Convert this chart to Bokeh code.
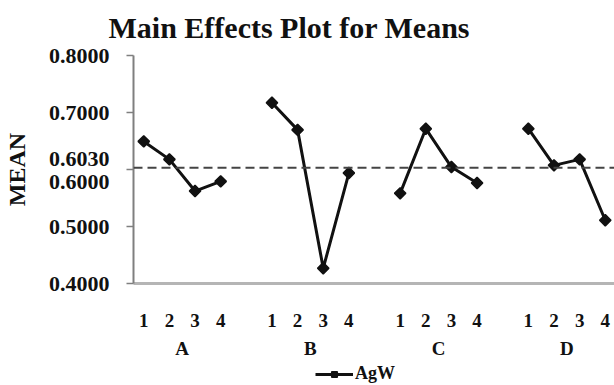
import numpy as np
from bokeh.plotting import figure
from bokeh.layouts import column
from bokeh.models import (Range1d, FixedTicker, LinearAxis, Span, Legend,
                          LegendItem, NumeralTickFormatter)
from bokeh.embed import file_html
from bokeh.resources import INLINE

# ---------------- data ----------------
title_text = "Main Effects Plot for Means"
y_label = "MEAN"
series_name = "AgW"
factors = ["A", "B", "C", "D"]
levels = ["1", "2", "3", "4"]
mean_A = [0.6493, 0.6178, 0.5622, 0.5792]
mean_B = [0.7171, 0.6695, 0.4268, 0.5938]
mean_C = [0.5582, 0.6716, 0.6043, 0.5763]
mean_D = [0.6716, 0.6073, 0.6178, 0.5109]
overall_mean = 0.603
y_ticks = [0.4, 0.5, 0.6, 0.7, 0.8]

series = [mean_A, mean_B, mean_C, mean_D]

# ---------------- layout helpers ----------------
FONT = "Liberation Serif"
INK = "#111111"
stride = len(levels) + 1
xs_groups = [[g * stride + i + 1 for i in range(len(levels))] for g in range(len(factors))]
tick_pos = [x for grp in xs_groups for x in grp]
tick_lab = {x: lv for grp in xs_groups for x, lv in zip(grp, levels)}
group_centers = [float(np.mean(grp)) for grp in xs_groups]

x_start, x_end = 0.6, 19.36

p = figure(width=614, height=364, output_backend="svg", toolbar_location=None,
           x_range=Range1d(x_start, x_end), y_range=Range1d(0.4, 0.8),
           min_border_left=133, min_border_right=0, min_border_top=55,
           min_border_bottom=81)
p.outline_line_color = None
p.grid.visible = False
p.background_fill_color = "white"
p.border_fill_color = "white"

# title
p.title.text = title_text
p.title.text_font = FONT
p.title.text_font_style = "bold"
p.title.text_font_size = "30px"
p.title.text_color = INK
p.title.align = "left"
p.title.vertical_align = "top"
p.title.offset = -25
p.title.standoff = 19

# y axis
ya = p.yaxis[0]
ya.ticker = FixedTicker(ticks=y_ticks)
ya.formatter = NumeralTickFormatter(format="0.0000")
ya.major_label_overrides = {0.6: f"{overall_mean:.4f}\n{0.6:.4f}"}
ya.axis_line_color = "#7f7f7f"
ya.axis_line_width = 2
ya.major_tick_line_color = "#7f7f7f"
ya.major_tick_line_width = 1.5
ya.major_tick_out = 7
ya.major_tick_in = 0
ya.minor_tick_line_color = None
ya.major_label_standoff = 17
ya.major_label_text_font = FONT
ya.major_label_text_font_style = "bold"
ya.major_label_text_font_size = "22px"
ya.major_label_text_line_height = 0.92
ya.major_label_text_color = INK
ya.axis_label = y_label
ya.axis_label_text_font = FONT
ya.axis_label_text_font_style = "bold"
ya.axis_label_text_font_size = "24px"
ya.axis_label_text_color = INK
ya.axis_label_standoff = 16

# x axis (levels)
xa = p.xaxis[0]
xa.ticker = FixedTicker(ticks=tick_pos)
xa.major_label_overrides = tick_lab
xa.axis_line_color = "#b5b5b5"
xa.axis_line_width = 3
xa.major_tick_line_color = None
xa.minor_tick_line_color = None
xa.major_tick_out = 0
xa.major_tick_in = 0
xa.major_label_standoff = 30
xa.major_label_text_font = FONT
xa.major_label_text_font_style = "bold"
xa.major_label_text_font_size = "19px"
xa.major_label_text_color = INK

# x axis (factor names)
xg = LinearAxis(ticker=FixedTicker(ticks=group_centers),
                major_label_overrides={c: f for c, f in zip(group_centers, factors)})
xg.axis_line_color = None
xg.major_tick_line_color = None
xg.minor_tick_line_color = None
xg.major_tick_out = 0
xg.major_tick_in = 0
xg.major_label_standoff = 8
xg.major_label_text_font = FONT
xg.major_label_text_font_style = "bold"
xg.major_label_text_font_size = "19px"
xg.major_label_text_color = INK
p.add_layout(xg, "below")

# reference line (overall mean)
p.add_layout(Span(location=overall_mean, dimension="width", line_color="#444444",
                  line_width=2, line_dash="9 5"))

# data
for xs, ys in zip(xs_groups, series):
    p.line(xs, ys, line_color=INK, line_width=3)
    p.scatter(xs, ys, marker="square", angle=np.pi / 4, size=8,
              fill_color=INK, line_color=INK, line_width=1.5)

# ---------------- legend strip ----------------
lg = figure(width=614, height=21, output_backend="svg", toolbar_location=None,
            x_range=Range1d(0, 1), y_range=Range1d(0, 1),
            min_border_left=0, min_border_right=0, min_border_top=0, min_border_bottom=0)
lg.axis.visible = False
lg.grid.visible = False
lg.outline_line_color = None
lg.border_fill_color = "white"
proxy_line = lg.line(x=[np.nan], y=[np.nan], line_color=INK, line_width=3)
proxy_pts = lg.scatter(x=[np.nan], y=[np.nan], marker="square", angle=np.pi / 4, size=8,
                       fill_color=INK, line_color=INK, line_width=1.5)
legend = Legend(items=[LegendItem(label=series_name, renderers=[proxy_line, proxy_pts])],
                location=(182, 1), orientation="horizontal",
                border_line_color=None, background_fill_alpha=0,
                label_text_font=FONT, label_text_font_style="bold",
                label_text_font_size="18px", label_text_color=INK,
                glyph_width=38, glyph_height=14, label_height=14, label_standoff=2,
                padding=0, margin=0, spacing=0)
lg.add_layout(legend, "center")

layout = column(p, lg, spacing=0)
open("out.html", "w").write(file_html(layout, INLINE))
